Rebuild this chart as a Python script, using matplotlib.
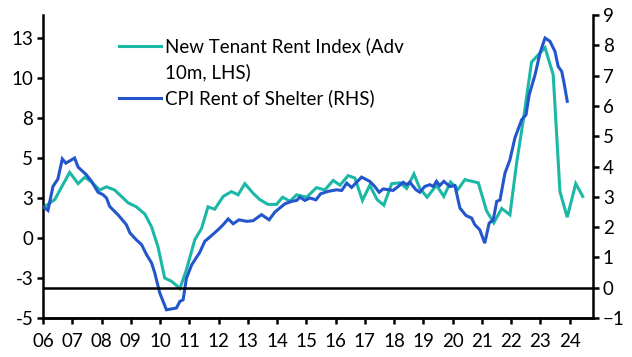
import numpy as np
import matplotlib
matplotlib.use("Agg")
import matplotlib.pyplot as plt
from matplotlib.lines import Line2D

# New Tenant Rent Index (advanced 10m), % y/y, left axis
ntr_t = [2006.00, 2006.40, 2006.91, 2007.20, 2007.43, 2007.66, 2007.94, 2008.17, 2008.45, 2008.91,
         2009.19, 2009.48, 2009.71, 2009.93, 2010.16, 2010.39, 2010.68, 2010.90, 2011.19, 2011.42,
         2011.64, 2011.87, 2012.16, 2012.44, 2012.67, 2012.90, 2013.18, 2013.41, 2013.69, 2013.98,
         2014.19, 2014.44, 2014.67, 2015.01, 2015.35, 2015.63, 2015.92, 2016.15, 2016.43, 2016.66,
         2016.92, 2017.17, 2017.42, 2017.65, 2017.92, 2018.20, 2018.43, 2018.68, 2018.88, 2019.13,
         2019.45, 2019.70, 2019.93, 2020.19, 2020.42, 2020.88, 2021.16, 2021.41, 2021.68, 2021.96,
         2022.19, 2022.42, 2022.70, 2023.16, 2023.44, 2023.67, 2023.92, 2024.21, 2024.45]
ntr_v = [1.9, 2.4, 4.1, 3.4, 3.8, 3.5, 3.0, 3.2, 3.0, 2.2,
         1.95, 1.5, 0.7, -0.55, -2.5, -2.7, -3.15, -2.0, -0.1, 0.6,
         1.95, 1.8, 2.6, 2.9, 2.7, 3.4, 2.8, 2.4, 2.1, 2.1,
         2.55, 2.3, 2.7, 2.55, 3.15, 3.0, 3.6, 3.3, 3.9, 3.75,
         2.35, 3.3, 2.4, 2.05, 3.4, 3.45, 3.1, 4.0, 3.1, 2.55,
         3.3, 2.6, 3.5, 3.05, 3.65, 3.45, 1.7, 0.95, 1.85, 1.45,
         4.7, 7.4, 11.0, 11.9, 10.2, 2.9, 1.3, 3.4, 2.6]

# CPI rent of shelter, % y/y, right axis
cpi_t = [2006.00, 2006.17, 2006.34, 2006.51, 2006.66, 2006.78, 2007.08, 2007.20, 2007.48, 2007.66,
         2007.88, 2008.05, 2008.17, 2008.28, 2008.56, 2008.85, 2008.97, 2009.19, 2009.37, 2009.54,
         2009.71, 2009.82, 2009.99, 2010.22, 2010.56, 2010.68, 2010.79, 2010.90, 2011.08, 2011.36,
         2011.53, 2011.76, 2011.98, 2012.16, 2012.33, 2012.50, 2012.70, 2012.96, 2013.18, 2013.47,
         2013.73, 2013.92, 2014.27, 2014.50, 2014.67, 2014.78, 2014.95, 2015.12, 2015.33, 2015.49,
         2015.75, 2016.03, 2016.21, 2016.38, 2016.55, 2016.89, 2017.17, 2017.34, 2017.49, 2017.63,
         2017.97, 2018.14, 2018.31, 2018.43, 2018.54, 2018.75, 2018.88, 2019.05, 2019.22, 2019.34,
         2019.45, 2019.56, 2019.70, 2019.91, 2020.08, 2020.25, 2020.46, 2020.65, 2020.76, 2020.93,
         2021.10, 2021.25, 2021.39, 2021.51, 2021.62, 2021.79, 2021.96, 2022.13, 2022.36, 2022.51,
         2022.62, 2022.82, 2022.99, 2023.16, 2023.33, 2023.50, 2023.61, 2023.73, 2023.81, 2023.92]
cpi_v = [2.68, 2.55, 3.34, 3.59, 4.25, 4.11, 4.28, 3.98, 3.73, 3.51,
         3.15, 3.07, 2.96, 2.68, 2.41, 2.08, 1.81, 1.58, 1.42, 1.09,
         0.82, 0.49, -0.17, -0.73, -0.67, -0.45, -0.40, 0.30, 0.75, 1.17,
         1.53, 1.72, 1.91, 2.08, 2.27, 2.11, 2.24, 2.19, 2.21, 2.41,
         2.24, 2.49, 2.77, 2.85, 2.88, 2.99, 2.88, 2.96, 2.90, 3.10,
         3.18, 3.23, 3.21, 3.45, 3.31, 3.65, 3.51, 3.34, 3.15, 3.26,
         3.21, 3.34, 3.48, 3.40, 3.48, 3.23, 3.15, 3.34, 3.40, 3.34,
         3.51, 3.37, 3.51, 3.34, 3.37, 2.63, 2.38, 2.30, 2.08, 1.91,
         1.47, 2.13, 2.24, 2.85, 2.89, 3.78, 4.22, 4.94, 5.54, 5.71,
         6.37, 7.03, 7.75, 8.24, 8.13, 7.80, 7.30, 7.14, 6.76, 6.15]

year_ticks = list(range(2006, 2025))
year_labels = [f"{y % 100:02d}" for y in year_ticks]
left_ticks = [-5, -2.5, 0, 2.5, 5, 7.5, 10, 12.5]
left_labels = ["-5", "-3", "0", "3", "5", "8", "10", "13"]
right_ticks = list(range(-1, 10))

teal = "#1CB8A6"
blue = "#2355CC"

plt.rcParams["font.family"] = ["Lato", "DejaVu Sans"]
plt.rcParams["font.size"] = 13.5

fig = plt.figure(figsize=(6.32, 3.57), dpi=100)
ax = fig.add_axes([43 / 632, 1 - 318 / 357, 550 / 632, 303 / 357])
ax2 = ax.twinx()

ax.plot(ntr_t, ntr_v, color=teal, lw=2.2, solid_joinstyle="miter")
ax2.plot(cpi_t, cpi_v, color=blue, lw=2.2, solid_joinstyle="miter")
ax2.axhline(0, color="black", lw=1.8)

ax.set_xlim(2006, 2024.8)
ax.set_ylim(-5, 13.94)
ax2.set_ylim(-1, 9)

ax.set_xticks(year_ticks)
ax.set_xticklabels(year_labels)
ax.set_yticks(left_ticks)
ax.set_yticklabels(left_labels)
ax2.set_yticks(right_ticks)

for a in (ax, ax2):
    a.spines["top"].set_visible(False)
    for s in a.spines.values():
        s.set_linewidth(1.8)
    a.tick_params(direction="out", length=4, width=1.8, pad=3)
ax.spines["right"].set_visible(False)
ax2.spines["left"].set_visible(False)
ax.tick_params(axis="x", pad=7)

handles = [Line2D([], [], color=teal, lw=2.2),
           Line2D([], [], color="none"),
           Line2D([], [], color=blue, lw=2.2)]
labels = ["New Tenant Rent Index (Adv", "10m, LHS)", "CPI Rent of Shelter (RHS)"]
ax.legend(handles, labels, loc="upper left", bbox_to_anchor=(0.125, 0.95),
          frameon=False, handlelength=2.2, handletextpad=0.25,
          labelspacing=0.42, borderaxespad=0)

fig.savefig("out.png", dpi=100)
